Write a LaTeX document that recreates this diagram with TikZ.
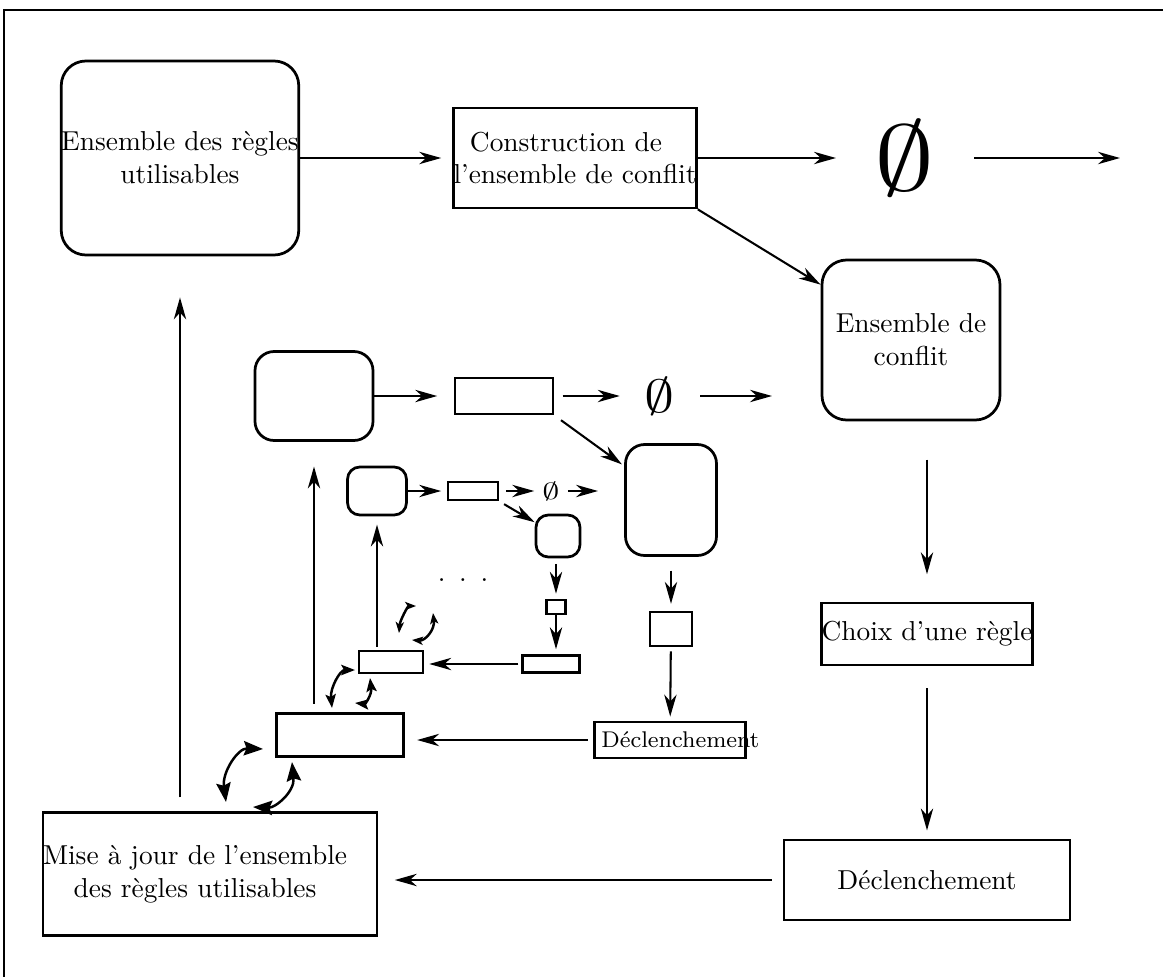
\documentclass[tikz,border=0pt]{standalone}
\usetikzlibrary{arrows.meta,positioning}
\newcommand{\upx}{0.365pt}
\tikzset{
  arr/.style={-{Stealth[length=8pt,width=4.5pt,inset=2.5pt]}, line width=0.75pt},
  dbl/.style={{Stealth[length=#1,inset=1pt]}-{Stealth[length=#1,inset=1pt]}, line width=0.9pt},
  rbox/.style={draw, line width=1pt, rounded corners=#1, inner sep=0pt, align=center},
  sbox/.style={draw, line width=1pt, rectangle, inner sep=0pt, align=center},
}
\begin{document}
\begin{tikzpicture}[x=0.365pt, y=-0.365pt]
    \useasboundingbox (0,0) rectangle (1163,977);
    \draw[line width=0.6pt] (4,977) -- (4,10) -- (1163,10);

    \node[rbox=9pt, minimum height=194*\upx] (regles) at (180,158) {Ensemble des règles\\utilisables};
    \node[sbox, align=left, minimum height=100*\upx] (constr) at (575,158) {\hspace*{6pt}Construction de\\l'ensemble de conflit};
    \node[inner xsep=14pt] (vide) at (905,158) {\scalebox{4.4}[3.4]{$\emptyset$}};
    \coordinate (sortie) at (1120,158);
    \node[rbox=9pt, minimum width=178*\upx, minimum height=160*\upx] (conflit) at (911,340) {Ensemble de\\conflit};
    \node[sbox, minimum height=62*\upx] (choix) at (927,634) {Choix d'une règle};
    \node[sbox, minimum width=286*\upx, minimum height=80*\upx] (declench) at (927,880) {Déclenchement};
    \node[sbox, text width=334*\upx, align=left, minimum height=123*\upx] (majour) at (210,874) {\begin{tabular}{@{}c@{}}Mise à jour de l'ensemble\\des règles utilisables\end{tabular}};

    \node[rbox=7pt, minimum width=118*\upx, minimum height=89*\upx] (regles2) at (314,396) {};
    \node[sbox, minimum width=98*\upx, minimum height=36*\upx] (constr2) at (504,396) {};
    \node[inner xsep=9pt] (vide2) at (660,396) {\scalebox{2.2}[1.7]{$\emptyset$}};
    \coordinate (sortie2) at (772,396);
    \node[rbox=7pt, minimum width=91*\upx, minimum height=111*\upx] (conflit2) at (671,500) {};
    \node[sbox, minimum width=42*\upx, minimum height=34*\upx] (choix2) at (671,629) {};
    \node[sbox, text width=151*\upx, align=left, minimum height=36*\upx, font=\fontsize{8.3}{10}\selectfont] (declench2) at (670,740) {\hspace*{2.5pt}\mbox{Déclenchement}};
    \node[sbox, minimum width=127*\upx, minimum height=43*\upx] (majour2) at (340,735) {};

    \node[rbox=4.5pt, minimum width=59*\upx, minimum height=48*\upx] (regles3) at (377,491) {};
    \node[sbox, minimum width=50*\upx, minimum height=18*\upx] (constr3) at (473,491) {};
    \node[inner xsep=2.8pt] (vide3) at (551,491) {\scalebox{1.25}[0.85]{$\emptyset$}};
    \coordinate (sortie3) at (598,491);
    \node[rbox=4.5pt, minimum width=44*\upx, minimum height=42*\upx] (conflit3) at (558,536) {};
    \node[sbox, minimum width=19*\upx, minimum height=14*\upx] (choix3) at (556,607) {};
    \node[sbox, minimum width=57*\upx, minimum height=17*\upx] (declench3) at (551,664) {};
    \node[sbox, minimum width=64*\upx, minimum height=22*\upx] (majour3) at (391,662) {};
    \node (points) at (463,580) {.\hspace{5pt}.\hspace{5pt}.};

    \draw[arr, shorten >=4pt] (regles) -- (constr);
    \draw[arr] (constr) -- (vide);
    \draw[arr] (vide) -- (sortie);
    \draw[arr] (constr.south east) -- (conflit);
    \draw[arr, shorten <=14pt, shorten >=10pt] (conflit.south -| choix.north) -- (choix.north);
    \draw[arr, shorten <=8pt, shorten >=3pt] (choix) -- (declench);
    \draw[arr, shorten <=4pt, shorten >=6pt] (declench.west) -- (declench.west -| majour.east);
    \draw[arr, shorten <=5pt, shorten >=15pt] (majour.north -| regles.south) -- (regles.south);

    \draw[arr, shorten >=6pt] (regles2) -- (constr2);
    \draw[arr, shorten <=3pt] (constr2) -- (vide2);
    \draw[arr] (vide2) -- (sortie2);
    \draw[arr, shorten <=3pt, shorten >=1pt] (constr2.south east) -- (conflit2);
    \draw[arr, shorten <=5pt, shorten >=2.5pt] (conflit2.south -| choix2.north) -- (choix2.north);
    \draw[arr, shorten <=1.5pt, shorten >=1.5pt] (choix2) -- (declench2);
    \draw[arr, shorten <=2pt, shorten >=4.5pt] (declench2.west) -- (declench2.west -| majour2.east);
    \draw[arr, shorten <=3pt, shorten >=9pt] (majour2.north -| regles2.south) -- (regles2.south);

    \draw[arr, shorten >=2pt] (regles3) -- (constr3);
    \draw[arr, shorten <=2.5pt] (constr3) -- (vide3);
    \draw[arr] (vide3) -- (sortie3);
    \draw[arr, shorten <=2pt] (constr3.south east) -- (conflit3);
    \draw[arr, shorten <=2pt, shorten >=1.8pt] (conflit3.south -| choix3.north) -- (choix3.north);
    \draw[arr, shorten >=1.8pt] (choix3.south) -- (choix3.south |- declench3.north);
    \draw[arr, shorten <=1pt, shorten >=1.8pt] (declench3.west) -- (declench3.west -| majour3.east);
    \draw[arr, shorten <=1pt, shorten >=3pt] (majour3.north -| regles3.south) -- (regles3.south);

    \coordinate (a1) at (263,749);
    \coordinate (a2) at (226,802);
    \coordinate (b1) at (292,762);
    \coordinate (b2) at (253,807);
    \draw[dbl=7pt] (a1) .. controls (238,748) and (222,772) .. (a2);
    \draw[dbl=7pt] (b1) .. controls (295,792) and (275,808) .. (b2);

    \coordinate (c1) at (355,670);
    \coordinate (c2) at (332,708);
    \coordinate (d1) at (370,678);
    \coordinate (d2) at (355,703);
    \draw[dbl=5pt] (c1) .. controls (340,670) and (330,688) .. (c2);
    \draw[dbl=5pt] (d1) .. controls (372,695) and (365,704) .. (d2);

    \coordinate (e1) at (416,606);
    \coordinate (e2) at (399,633);
    \coordinate (f1) at (433,613);
    \coordinate (f2) at (412,640);
    \draw[dbl=4pt] (e1) .. controls (408,606) and (400,620) .. (e2);
    \draw[dbl=4pt] (f1) .. controls (435,630) and (425,641) .. (f2);
\end{tikzpicture}
\end{document}
